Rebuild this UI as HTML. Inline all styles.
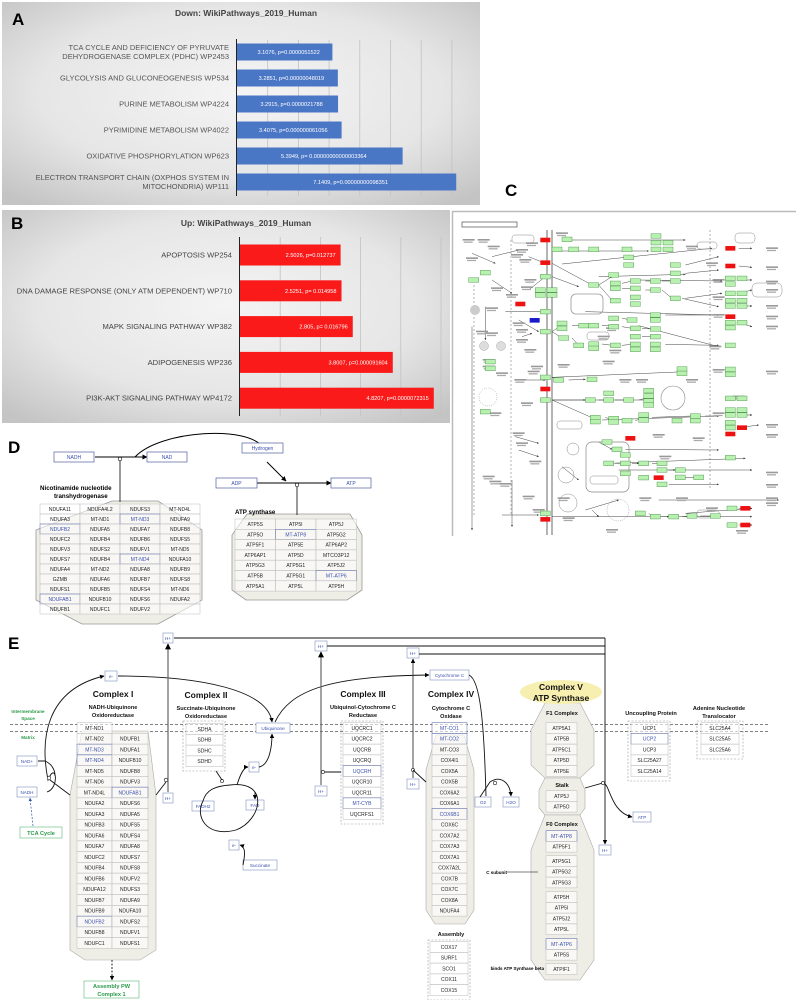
<!DOCTYPE html>
<html><head><meta charset="utf-8">
<style>
html,body{margin:0;padding:0;background:#fff;}
svg{display:block;font-family:"Liberation Sans",Arial,sans-serif;}
</style></head>
<body>
<svg id="fig" width="796" height="1000" viewBox="0 0 796 1000" xmlns="http://www.w3.org/2000/svg">
<defs>
<radialGradient id="bgA" cx="0.5" cy="0.45" r="0.7">
<stop offset="0" stop-color="#f4f4f4"/><stop offset="0.6" stop-color="#e6e6e6"/><stop offset="1" stop-color="#c4c4c4"/>
</radialGradient>
<marker id="arr" viewBox="0 0 10 10" refX="9" refY="5" markerWidth="5" markerHeight="5" orient="auto"><path d="M0,0L10,5L0,10z" fill="#000"/></marker>
<marker id="arrS" viewBox="0 0 10 10" refX="9" refY="5" markerWidth="4" markerHeight="4" orient="auto"><path d="M0,0L10,5L0,10z" fill="#333"/></marker>
<marker id="arrB" viewBox="0 0 10 10" refX="9" refY="5" markerWidth="5" markerHeight="5" orient="auto"><path d="M0,0L10,5L0,10z" fill="#3355aa"/></marker>
</defs>

<!-- Panel A -->
<g>
<rect x="2" y="2" width="478" height="203" fill="url(#bgA)"/>
<text x="12" y="25" font-size="17" font-weight="bold">A</text>
<text x="246" y="16" font-size="8.5" font-weight="bold" fill="#444" text-anchor="middle">Down: WikiPathways_2019_Human</text>
<g id="gridA"></g>
<g id="barsA"></g>
<line x1="236.5" y1="39" x2="236.5" y2="196" stroke="#222" stroke-width="1"/>
</g>

<!-- Panel B -->
<g>
<rect x="2" y="210" width="448" height="213" fill="url(#bgA)"/>
<text x="11" y="229" font-size="17" font-weight="bold">B</text>
<text x="246" y="226" font-size="8.5" font-weight="bold" fill="#444" text-anchor="middle">Up: WikiPathways_2019_Human</text>
<g id="gridB"></g>
<g id="barsB"></g>
<line x1="239.5" y1="237" x2="239.5" y2="416" stroke="#222" stroke-width="1"/>
</g>

<!-- Panel C -->
<g>
<text x="505" y="196" font-size="17" font-weight="bold">C</text>
<line x1="452" y1="211.5" x2="796" y2="211.5" stroke="#bbb" stroke-width="1.5"/>
<line x1="452.5" y1="211" x2="452.5" y2="536" stroke="#bbb" stroke-width="1.5"/>
<rect x="462" y="222" width="55" height="5" fill="none" stroke="#333" stroke-width="0.6"/>
<line x1="547" y1="230" x2="547" y2="535" stroke="#444" stroke-width="0.8"/>
<line x1="552" y1="230" x2="552" y2="535" stroke="#444" stroke-width="0.8"/>
<line x1="511" y1="240" x2="511" y2="515" stroke="#666" stroke-width="0.5" stroke-dasharray="2,2"/>
<line x1="710" y1="230" x2="710" y2="490" stroke="#666" stroke-width="0.5" stroke-dasharray="2,2"/>
<line x1="474" y1="285" x2="474" y2="515" stroke="#666" stroke-width="0.5" stroke-dasharray="2,2"/>
<g id="cLines" stroke="#444" stroke-width="0.5" fill="none"></g>
<g id="cText" fill="#777"></g>
<rect x="571" y="294" width="32" height="20" rx="5" fill="none" stroke="#999" stroke-width="0.8"/>
<circle cx="475" cy="310" r="5" fill="#ccc"/>
<circle cx="484" cy="346" r="4.5" fill="#ddd" stroke="#999" stroke-width="0.4"/>
<circle cx="501" cy="346" r="4.5" fill="#ddd" stroke="#999" stroke-width="0.4"/>
<circle cx="488" cy="397" r="9" fill="none" stroke="#999" stroke-width="0.5" stroke-dasharray="1,1"/>
<circle cx="673" cy="398" r="12" fill="none" stroke="#888" stroke-width="0.6"/>
<circle cx="573" cy="449" r="6" fill="none" stroke="#888" stroke-width="0.5"/>
<circle cx="566" cy="475" r="8" fill="none" stroke="#888" stroke-width="0.5"/>
<circle cx="568" cy="503" r="9" fill="none" stroke="#888" stroke-width="0.5"/>
<circle cx="618" cy="510" r="11" fill="none" stroke="#888" stroke-width="0.5" stroke-dasharray="1,1"/>
<rect x="586" y="442" width="43" height="50" rx="6" fill="none" stroke="#888" stroke-width="0.7"/>
<rect x="590" y="476" width="28" height="8" rx="3" fill="none" stroke="#888" stroke-width="0.5"/>
<rect x="557" y="421" width="25" height="8" rx="3" fill="none" stroke="#888" stroke-width="0.5"/>
<rect x="587" y="332" width="22" height="8" rx="3" fill="none" stroke="#888" stroke-width="0.5"/>
<rect x="735" y="233" width="20" height="10" rx="4" fill="none" stroke="#888" stroke-width="0.5"/>
<rect x="752" y="283" width="30" height="14" rx="5" fill="none" stroke="#888" stroke-width="0.5"/>
<rect x="697" y="242" width="20" height="7" rx="3" fill="none" stroke="#888" stroke-width="0.5"/>
<rect x="512" y="235" width="22" height="8" rx="3" fill="none" stroke="#888" stroke-width="0.5"/>
<rect x="697" y="510" width="22" height="8" rx="3" fill="none" stroke="#888" stroke-width="0.5"/>
<g id="cBoxes"></g>
</g>

<!-- Panel D -->
<g id="panelD">
<text x="8" y="453" font-size="17" font-weight="bold">D</text>
<path d="M112,501 L158,501 L202,530 L202,600 L158,624 L82,624 L36,600 L36,530 Z" fill="#efeee6" stroke="#999" stroke-width="0.8"/>
<path d="M247,514 L350,514 L362,535 L362,590 L347,600 L246,600 L232,590 L232,535 Z" fill="#efeee6" stroke="#999" stroke-width="0.8"/>
<text x="40" y="490" font-size="6.2" font-weight="bold">Nicotinamide nucleotide</text>
<text x="54" y="498" font-size="6.2" font-weight="bold">transhydrogenase</text>
<text x="235" y="514" font-size="6.2" font-weight="bold">ATP synthase</text>
<g id="tabD1"></g>
<g id="tabD2"></g>
<line x1="95" y1="457" x2="147" y2="457" stroke="#000" stroke-width="1" marker-end="url(#arr)"/>
<line x1="120" y1="459" x2="120" y2="502" stroke="#000" stroke-width="0.8"/>
<circle cx="120" cy="459" r="1.8" fill="#fff" stroke="#000" stroke-width="0.6"/>
<path d="M135,457 C160,430 250,425 263,448" fill="none" stroke="#000" stroke-width="1" marker-end="url(#arr)"/>
<line x1="267" y1="462" x2="286" y2="481" stroke="#000" stroke-width="1" marker-end="url(#arr)"/>
<line x1="257" y1="483" x2="331" y2="483" stroke="#000" stroke-width="1" marker-end="url(#arr)"/>
<line x1="297" y1="485" x2="297" y2="515" stroke="#000" stroke-width="0.8"/>
<circle cx="297" cy="485" r="1.8" fill="#fff" stroke="#000" stroke-width="0.6"/>
</g>

<!-- Panel E -->
<g id="panelE">
<text x="8" y="649" font-size="17" font-weight="bold">E</text>
<line x1="10" y1="724.5" x2="768" y2="724.5" stroke="#555" stroke-width="0.7" stroke-dasharray="3,2"/>
<line x1="10" y1="731.5" x2="768" y2="731.5" stroke="#555" stroke-width="0.7" stroke-dasharray="3,2"/>
<text x="28" y="713" font-size="4.6" fill="#2a9a4a" font-weight="bold" text-anchor="middle">Intermembrane</text>
<text x="28" y="720" font-size="4.6" fill="#2a9a4a" font-weight="bold" text-anchor="middle">Space</text>
<text x="28" y="739" font-size="4.6" fill="#2a9a4a" font-weight="bold" text-anchor="middle">Matrix</text>
<path d="M82,731 L148,731 L156,795 L156,950 L140,960 L85,960 L70,950 L70,795 Z" fill="#efeee6" stroke="#aaa" stroke-width="0.6"/>
<path d="M436,735 L464,735 L474,770 L474,910 L465,924 L435,924 L426,910 L426,770 Z" fill="#efeee6" stroke="#aaa" stroke-width="0.6"/>
<path d="M545,703 L580,703 L594,730 L594,765 L580,778 L545,778 L531,765 L531,730 Z" fill="#efeee6" stroke="#aaa" stroke-width="0.6"/>
<path d="M545,778 L580,778 L585,790 L585,808 L580,815 L545,815 L539,808 L539,790 Z" fill="#efeee6" stroke="#aaa" stroke-width="0.6"/>
<path d="M545,815 L580,815 L594,850 L594,960 L580,980 L545,980 L531,960 L531,850 Z" fill="#efeee6" stroke="#aaa" stroke-width="0.6"/>
<ellipse cx="561" cy="692" rx="41" ry="12" fill="#f6efb0"/>
<g font-weight="bold" text-anchor="middle" fill="#111">
<text x="113" y="697" font-size="8.5">Complex I</text>
<text x="113" y="709" font-size="5.6">NADH-Ubiquinone</text>
<text x="113" y="717" font-size="5.6">Oxidoreductase</text>
<text x="206" y="698" font-size="8.5">Complex II</text>
<text x="206" y="710" font-size="5.6">Succinate-Ubiquinone</text>
<text x="206" y="718" font-size="5.6">Oxidoreductase</text>
<text x="363" y="697" font-size="8.5">Complex III</text>
<text x="363" y="709" font-size="5.6">Ubiquinol-Cytochrome C</text>
<text x="363" y="717" font-size="5.6">Reductase</text>
<text x="451" y="697" font-size="8.5">Complex IV</text>
<text x="451" y="710" font-size="5.6">Cytochrome C</text>
<text x="451" y="718" font-size="5.6">Oxidase</text>
<text x="561" y="690" font-size="8.5">Complex V</text>
<text x="561" y="701" font-size="8.5">ATP Synthase</text>
<text x="562" y="715" font-size="5.6">F1 Complex</text>
<text x="562" y="787" font-size="5.6">Stalk</text>
<text x="562" y="826" font-size="5.6">F0 Complex</text>
<text x="651" y="715" font-size="5.6">Uncoupling Protein</text>
<text x="719" y="710" font-size="5.6">Adenine Nucleotide</text>
<text x="719" y="718" font-size="5.6">Translocator</text>
<text x="451" y="936" font-size="5.6">Assembly</text>
</g>
<text x="507" y="874" font-size="4.5" font-weight="bold" text-anchor="end">C subunit</text>
<text x="544" y="970" font-size="4.5" font-weight="bold" text-anchor="end">binds ATP Synthase beta</text>
<line x1="507" y1="872" x2="538" y2="872" stroke="#000" stroke-width="0.6"/>
<g fill="none" stroke="#999" stroke-width="0.6" stroke-dasharray="2,1.5">
<rect x="183" y="721" width="42" height="50"/>
<rect x="341" y="721" width="42" height="103"/>
<rect x="428" y="940" width="42" height="60"/>
<rect x="628" y="721" width="42" height="60"/>
<rect x="697" y="721" width="46" height="38"/>
</g>
<g id="tabE"></g>
<g id="nodesE"></g>
<g fill="none" stroke="#111" stroke-width="0.9">
<line x1="174" y1="638" x2="605" y2="638"/>
<line x1="327" y1="646" x2="605" y2="646"/>
<line x1="419" y1="654" x2="605" y2="654"/>
<line x1="605" y1="638" x2="605" y2="844" marker-end="url(#arr)"/>
<path d="M47,792 C60,788 56,760 48,780 C40,740 45,690 104,676" marker-end="url(#arr)"/>
<path d="M38,761 L45,761 C52,764 55,770 55,776" />
<path d="M118,676 C200,676 268,690 272,722" marker-end="url(#arr)"/>
<path d="M275,722 C290,690 330,676 429,675" marker-end="url(#arr)"/>
<path d="M469,675 C480,680 484,720 486,796"/>
<path d="M480,797 L490,782 C500,775 510,782 511,796" marker-end="url(#arr)"/>
<circle cx="495" cy="783" r="1.8" fill="#fff" stroke-width="0.6"/>
<line x1="413" y1="778" x2="413" y2="659" stroke="#333" marker-end="url(#arr)"/>
<circle cx="413" cy="770" r="1.6" fill="#fff" stroke-width="0.6"/>
<line x1="413" y1="770" x2="426" y2="782" />
<line x1="321" y1="785" x2="321" y2="652" stroke="#666" stroke-width="1.2" marker-end="url(#arr)"/>
<line x1="323" y1="772" x2="341" y2="772"/>
<circle cx="323" cy="772" r="1.6" fill="#fff" stroke-width="0.6"/>
<line x1="168" y1="792" x2="168" y2="644" stroke="#666" stroke-width="1.2" marker-end="url(#arr)"/>
<circle cx="166" cy="780" r="1.8" fill="#fff" stroke-width="0.6"/>
<line x1="166" y1="782" x2="156" y2="795"/>
<circle cx="49" cy="778" r="1.8" fill="#fff" stroke-width="0.6"/>
<line x1="50" y1="780" x2="70" y2="795"/>
<line x1="112" y1="960" x2="112" y2="980" stroke-dasharray="2,1.5" marker-end="url(#arr)"/>
<path d="M230,785 C270,780 262,820 236,830 C205,838 195,815 203,801 C206,790 215,786 230,785"/>
<path d="M237,785 C240,775 244,767 248,767" marker-end="url(#arr)"/>
<path d="M259,767 C270,765 272,745 272,734" marker-end="url(#arr)"/>
<line x1="255" y1="792" x2="255" y2="799" marker-end="url(#arr)"/>
<circle cx="222" cy="781" r="1.6" fill="#fff" stroke-width="0.6"/>
<line x1="222" y1="780" x2="216" y2="771"/>
<path d="M243,865 C245,855 246,847 240,845" marker-end="url(#arr)"/>
<path d="M585,788 L603,783 C610,783 610,812 632,817" marker-end="url(#arr)"/>
<circle cx="603" cy="783" r="1.6" fill="#fff" stroke-width="0.6"/>
</g>
<line x1="33" y1="826" x2="30" y2="798" stroke="#3355aa" stroke-width="0.7" stroke-dasharray="2,1.5" marker-end="url(#arrB)"/>
</g>

<script>
var NS='http://www.w3.org/2000/svg';
function mk(parent,tag,attrs,name,inter){
  var el=document.createElementNS(NS,tag);
  for(var k in attrs){el.setAttribute(k,attrs[k]);}
  
  
  parent.appendChild(el);return el;
}
function txt(parent,x,y,s,size,fill,anchor,name,extra){
  var a={x:x,y:y,'font-size':size,fill:fill,'text-anchor':anchor||'middle'};
  if(extra){for(var k in extra)a[k]=extra[k];}
  var t=mk(parent,'text',a,name,'false');t.textContent=s;return t;
}

/* ---- Panel A data ---- */
var downCats=["TCA CYCLE  AND DEFICIENCY  OF PYRUVATE|DEHYDROGENASE  COMPLEX  (PDHC)  WP2453","GLYCOLYSIS  AND  GLUCONEOGENESIS  WP534","PURINE  METABOLISM  WP4224","PYRIMIDINE  METABOLISM  WP4022","OXIDATIVE   PHOSPHORYLATION   WP623","ELECTRON  TRANSPORT  CHAIN  (OXPHOS  SYSTEM IN|MITOCHONDRIA)  WP111"];
var downValues=[3.1076,3.2851,3.2915,3.4075,5.3949,7.1409];
var downLabels=["3.1076, p=0.0000051522","3.2851, p=0.00000048019","3.2915, p=0.0000021788","3.4075, p=0.000000061056","5.3949, p= 0.00000000000003364","7.1409,  p=0.00000000098351"];
var downTicks=[1,2,3,4,5,6,7];
/* ---- Panel B data ---- */
var upCats=["APOPTOSIS  WP254","DNA DAMAGE RESPONSE (ONLY  ATM DEPENDENT)  WP710","MAPK SIGNALING  PATHWAY WP382","ADIPOGENESIS  WP236","PI3K-AKT  SIGNALING  PATHWAY  WP4172"];
var upValues=[2.5026,2.5251,2.805,3.8007,4.8207];
var upLabels=["2.5026, p=0.012737","2.5251, p= 0.014958","2.805, p= 0.016796","3.8007, p=0.000091604","4.8207, p=0.0000072315"];
var upTicks=[1,2,3,4,5];

function xA(v){return 237+v*30.7;}
function yA(i){return 52+i*26;}
function xB(v){return 240+v*40.2;}
function yB(i){return 255+i*35.8;}

(function(){
  var g=document.getElementById('gridA');
  downTicks.forEach(function(t){
    mk(g,'line',{x1:xA(t),x2:xA(t),y1:40,y2:196,stroke:'#c2c2c2','stroke-width':0.8},'x-gridline','false');
  });
  var b=document.getElementById('barsA');
  downValues.forEach(function(v,i){
    mk(b,'rect',{x:237,y:yA(i)-8.5,width:xA(v)-237,height:17,fill:'#4a76c6'},'bar-down-'+i,'true');
    txt(b,(237+xA(v))/2+4,yA(i)+2,downLabels[i],5.6,'#fff','middle','bar-value-label');
    var parts=downCats[i].split('|');
    parts.forEach(function(p,j){
      txt(b,229,yA(i)+2.5+(j-(parts.length-1)/2)*9,p,7.5,'#555','end','category-label',{'xml:space':'preserve'});
    });
  });
  var g2=document.getElementById('gridB');
  upTicks.forEach(function(t){
    mk(g2,'line',{x1:xB(t),x2:xB(t),y1:237,y2:416,stroke:'#c2c2c2','stroke-width':0.8},'x-gridline','false');
  });
  var b2=document.getElementById('barsB');
  upValues.forEach(function(v,i){
    mk(b2,'rect',{x:240,y:yB(i)-10.5,width:xB(v)-240,height:21,fill:'#fa1a1a'},'bar-up-'+i,'true');
    txt(b2,xB(v)-5,yB(i)+2,upLabels[i],5.6,'#fff','end','bar-value-label');
    txt(b2,232,yB(i)+2.5,upCats[i],7.6,'#444','end','category-label',{'xml:space':'preserve'});
  });
})();

/* ---- Panel C diagram ---- */
(function(){
  var G=[[315,208],[345,178],[365,208],[425,208],[525,208],[612,168],[612,188],[648,188],[612,208],[648,208],[530,232],[530,255],[280,290],[265,330],[300,330],[265,345],[300,345],[425,315],[485,285],[490,310],[490,325],[550,303],[610,303],[670,303],[550,325],[610,330],[550,352],[550,372],[490,362],[670,355],[670,280],[670,255],[835,295],[870,295],[835,312],[835,340],[870,340],[835,362],[870,362],[835,378],[870,378],[835,428],[870,428],[835,443],[280,395],[280,455],[330,430],[330,445],[395,437],[425,437],[485,415],[485,440],[540,420],[550,445],[550,470],[610,447],[610,470],[610,405],[610,420],[610,493],[610,508],[550,493],[550,508],[380,496],[425,492],[425,505],[490,496],[335,474],[835,496],[835,568],[835,583],[690,567],[690,580],[280,592],[320,600],[420,598],[280,660],[415,660],[470,640],[470,660],[530,660],[590,632],[590,648],[590,663],[590,675],[430,713],[430,725],[485,716],[485,726],[525,722],[575,705],[575,720],[675,722],[730,708],[730,722],[835,655],[870,655],[835,690],[870,690],[835,705],[870,705],[835,728],[835,743],[465,786],[495,808],[520,825],[470,850],[520,850],[575,850],[630,850],[630,870],[685,870],[685,892],[740,892],[575,893],[630,913],[520,880],[835,833],[565,1000],[610,1010],[665,1010],[720,1008],[790,1008],[840,985],[840,1035],[280,1000],[100,278],[65,300],[115,545],[115,565],[100,695]];
  var R=[[280,180],[280,248],[205,372],[280,627],[535,775],[620,893],[835,205],[835,258],[835,410],[870,743],[835,762],[880,985],[880,1035],[280,1018]];
  var L=[[330,213,590,213],[330,252,780,205],[400,395,800,405],[560,437,800,500],[300,592,700,575],[300,660,580,660],[450,720,800,708],[470,850,880,835],[300,1010,900,1010],[330,180,700,180],[440,290,700,283],[220,600,280,600],[160,395,280,395],[620,960,980,960],[700,1000,900,985],[560,300,810,303],[700,355,810,340],[500,870,900,870],
  [300,250,420,315],[300,290,380,320],[440,315,480,290],[440,315,480,360],[510,310,540,303],[510,325,540,325],[580,303,600,303],[580,330,600,330],[630,303,660,303],[630,330,660,355],[700,280,800,270],[690,355,800,380],[700,255,800,230],[300,455,330,435],[360,437,390,437],[450,437,480,437],[510,415,540,420],[510,440,540,445],[570,445,600,447],[570,470,600,470],[640,405,800,405],[300,455,330,474],[360,474,380,496],[450,492,480,496],[510,496,540,493],[640,493,800,496],[860,300,900,300],[860,340,900,330],[860,378,900,378],[860,428,900,440],[860,205,900,205],[860,258,900,262],[300,592,320,600],[350,600,400,598],[300,660,400,660],[440,660,460,660],[490,660,520,660],[560,660,580,655],[300,660,420,713],[460,713,475,716],[510,716,520,722],[550,722,570,715],[600,712,720,708],[760,708,800,708],[860,705,900,705],[860,743,920,735],[440,786,480,808],[520,808,800,810],[490,850,510,850],[540,850,560,850],[600,850,620,850],[650,870,670,870],[700,892,730,892],[650,913,800,913],[590,1000,600,1010],[630,1010,650,1010],[690,1010,710,1008],[745,1008,780,1008],[860,985,900,985],[860,1035,900,1035],[120,230,200,210],[120,300,180,340],[230,230,280,250],[230,330,280,290],[60,220,130,250],[100,380,100,480],[200,420,260,455],[210,470,240,460],[340,180,340,170],[180,900,180,1040],[60,440,60,1050],[190,770,260,790],[200,810,260,830],[330,860,380,900],[400,990,500,960],[150,1005,260,1005],[420,990,440,1010]];
  var T=[[50,180],[95,180],[125,200],[60,235],[210,210],[195,225],[220,240],[240,190],[330,160],[235,300],[225,322],[180,345],[135,325],[120,385],[90,455],[120,460],[200,430],[210,450],[210,480],[235,510],[110,540],[110,560],[150,580],[255,560],[245,575],[335,555],[205,600],[225,670],[130,700],[200,760],[210,790],[250,845],[110,890],[130,905],[160,912],[230,950],[260,990],[335,955],[350,1015],[480,1050],[520,600],[570,600],[720,600],[720,200],[780,250],[800,300],[800,352],[800,405],[790,500],[800,570],[960,205],[960,262],[960,305],[960,330],[960,378],[960,410],[960,440],[960,575],[960,735],[960,765],[960,878],[960,915],[960,955],[960,970],[860,650],[800,700],[480,445],[455,470],[490,512],[470,545],[620,765],[740,775],[640,830],[690,955],[580,955],[870,1053],[780,985]];
  var cb=document.getElementById('cBoxes'), cl=document.getElementById('cLines'), ct=document.getElementById('cText');
  L.forEach(function(l){mk(cl,'line',{x1:452+l[0]/3,y1:180+l[1]/3,x2:452+l[2]/3,y2:180+l[3]/3,'marker-end':'url(#arrS)'},'pathway-edge','false');});
  T.forEach(function(p){mk(ct,'rect',{x:452+p[0]/3-6,y:180+p[1]/3-1,width:12,height:1.6,fill:'#999'},'tiny-label','false');mk(ct,'rect',{x:452+p[0]/3-5,y:180+p[1]/3+1.5,width:9,height:1.3,fill:'#aaa'},'tiny-label','false');});
  G.forEach(function(p){mk(cb,'rect',{x:452+p[0]/3-5,y:180+p[1]/3-2.3,width:10,height:4.6,fill:'#b8f0b0',stroke:'#3a8a3a','stroke-width':0.4},'gene-node','true');});
  R.forEach(function(p){mk(cb,'rect',{x:452+p[0]/3-5,y:180+p[1]/3-2.3,width:10,height:4.6,fill:'#ee1111'},'gene-node-upregulated','true');});
  mk(cb,'rect',{x:452+248/3-5,y:180+421/3-2.3,width:10,height:4.6,fill:'#1a1acc'},'gene-node-downregulated','true');
})();

/* ---- Panel D tables ---- */
(function(){
  var t1=[["NDUFA11","NDUFA4L2","NDUFS3","MT-ND4L"],["NDUFA3","MT-ND1","*MT-ND3","NDUFA9"],["*NDUFB2","NDUFA5","NDUFA7","NDUFB8"],["NDUFC2","NDUFB4","NDUFB6","NDUFS5"],["NDUFV3","NDUFS2","NDUFV1","MT-ND5"],["NDUFS7","NDUFB4","*MT-ND4","NDUFA10"],["NDUFA4","MT-ND2","NDUFA8","NDUFB9"],["GZMB","NDUFA6","NDUFB7","NDUFS8"],["NDUFS1","NDUFB5","NDUFS4","MT-ND6"],["*NDUFAB1","NDUFB10","NDUFS6","NDUFA2"],["NDUFB1","NDUFC1","NDUFV2",""]];
  var t2=[["ATP5S","ATP5I","ATP5J"],["ATP5O","*MT-ATP8","ATP5G2"],["ATP5F1","ATP5E","ATP6AP2"],["ATP6AP1","ATP5D","MTCO3P12"],["ATP5G3","ATP5G1","ATP5J2"],["ATP5B","ATP5G1","*MT-ATP6"],["ATP5A1","ATP5L","ATP5H"]];
  function table(g,data,x0,y0,cw,rh){
    data.forEach(function(row,r){row.forEach(function(s,c){
      var blue=s.charAt(0)=='*'; if(blue)s=s.slice(1);
      mk(g,'rect',{x:x0+c*cw,y:y0+r*rh,width:cw,height:rh,fill:'rgba(255,255,255,0.55)',stroke:blue?'#5060a0':'#bbb','stroke-width':0.5},'gene-cell','true');
      if(s)txt(g,x0+c*cw+cw/2,y0+r*rh+rh/2+1.8,s,5,blue?'#3a50b0':'#222','middle','gene-name');
    });});
  }
  table(document.getElementById('tabD1'),t1,40,504,40,10);
  table(document.getElementById('tabD2'),t2,235,519,40.5,10.3);
  var d=document.getElementById('panelD');
  [["NADH",54,452,40],["NAD",147,452,40],["Hydrogen",242,443,41],["ADP",216,478,41],["ATP",331,478,40]].forEach(function(n){
    mk(d,'rect',{x:n[1],y:n[2],width:n[3],height:10,fill:'#fff',stroke:'#5060a0','stroke-width':0.7},'node-'+n[0].toLowerCase(),'true');
    txt(d,n[1]+n[3]/2,n[2]+7,n[0],5,'#3a50b0','middle','node-label');
  });
})();

/* ---- Panel E tables and nodes ---- */
(function(){
  var g=document.getElementById('tabE'), rh=10.75;
  function col(list,x0,w,y0){
    list.forEach(function(s,r){
      if(s===null)return;
      var blue=s.charAt(0)=='*'; if(blue)s=s.slice(1);
      mk(g,'rect',{x:x0,y:y0+r*rh-rh/2,width:w,height:rh,fill:'rgba(255,255,255,0.6)',stroke:blue?'#5060a0':'#bbb','stroke-width':0.5},'gene-cell','true');
      if(s)txt(g,x0+w/2,y0+r*rh+1.8,s,5,blue?'#3a50b0':'#222','middle','gene-name');
    });
  }
  col(["MT-ND1","MT-ND2","*MT-ND3","*MT-ND4","MT-ND5","MT-ND6","MT-ND4L","NDUFA2","NDUFA3","NDUFB3","NDUFA6","NDUFA7","NDUFC2","NDUFB4","NDUFB6","NDUFA12","NDUFB7","NDUFB9","*NDUFB2","NDUFB8","NDUFC1"],77,35,728);
  col([null,"NDUFB1","NDUFA1","NDUFB10","NDUFB8","NDUFV3","*NDUFAB1","NDUFS6","NDUFA5","NDUFS5","NDUFS4","NDUFA8","NDUFS7","NDUFS8","NDUFV2","NDUFS3","NDUFA9","NDUFA10","NDUFS2","NDUFV1","NDUFS1"],112,36,728);
  col(["SDHA","SDHB","SDHC","SDHD"],186,37,729);
  col(["UQCRC1","UQCRC2","UQCRB","UQCRQ","*UQCRH","UQCR10","UQCR11","*MT-CYB","UQCRFS1"],343,38,728);
  col(["*MT-CO1","*MT-CO2","MT-CO3","COX4I1","COX5A","COX5B","COX6A2","COX6A1","*COX6B1","COX6C","COX7A2","COX7A3","COX7A1","COX7A2L","COX7B","COX7C","COX8A","NDUFA4"],432,35,728);
  col(["COX17","SURF1","SCO1","COX11","COX15"],430,38,947);
  col(["ATP5A1","ATP5B","ATP5C1","ATP5D","ATP5E"],546,31,728);
  col(["ATP5J","ATP5O"],546,31,796);
  col(["*MT-ATP8","ATP5F1"],546,31,836);
  col(["ATP5G1","ATP5G2","ATP5G3"],546,31,861);
  col(["ATP5H","ATP5I","ATP5J2","ATP5L"],546,31,897);
  col(["*MT-ATP6","ATP5S"],546,31,944);
  col(["ATPIF1"],546,31,969);
  col(["UCP1","*UCP2","UCP3","SLC25A27","SLC25A14"],631,37,728);
  col(["SLC25A4","SLC25A5","SLC25A6"],701,38,728);
  var n=document.getElementById('nodesE');
  [["H+",163,633,10],["H+",163,793,10],["e-",105,671,12],["NAD+",17,756,20],["NADH",17,787,20],["Ubiquinone",256,723,34],["e-",249,762,10],["FADH2",192,801,22],["FAD",246,800,18],["e-",229,840,10],["Succinate",243,860,34],["H+",315,641,12],["H+",315,786,12],["Cytochrome C",430,670,39],["H+",407,648,12],["H+",407,779,12],["O2",475,797,16],["H2O",503,797,16],["ATP",633,812,18],["H+",599,845,12]].forEach(function(a){
    mk(n,'rect',{x:a[1],y:a[2],width:a[3],height:10,fill:'#fff',stroke:'#8090c0','stroke-width':0.6},'metabolite-node','true');
    txt(n,a[1]+a[3]/2,a[2]+6.8,a[0],4.6,'#3a50b0','middle','metabolite-label');
  });
  mk(n,'rect',{x:20,y:827,width:42,height:11,fill:'#fff',stroke:'#5cb87a','stroke-width':0.6},'tca-cycle-link','true');
  txt(n,41,835,"TCA Cycle",5.6,'#2a9a4a','middle','tca-cycle-label',{'font-weight':'bold'});
  mk(n,'rect',{x:84,y:981,width:55,height:17,fill:'#fff',stroke:'#5cb87a','stroke-width':0.6},'assembly-pw-link','true');
  txt(n,111.5,988,"Assembly PW",5.6,'#2a9a4a','middle','assembly-label',{'font-weight':'bold'});
  txt(n,111.5,996,"Complex 1",5.6,'#2a9a4a','middle','assembly-label',{'font-weight':'bold'});
})();
</script>
</svg>
</body></html>
